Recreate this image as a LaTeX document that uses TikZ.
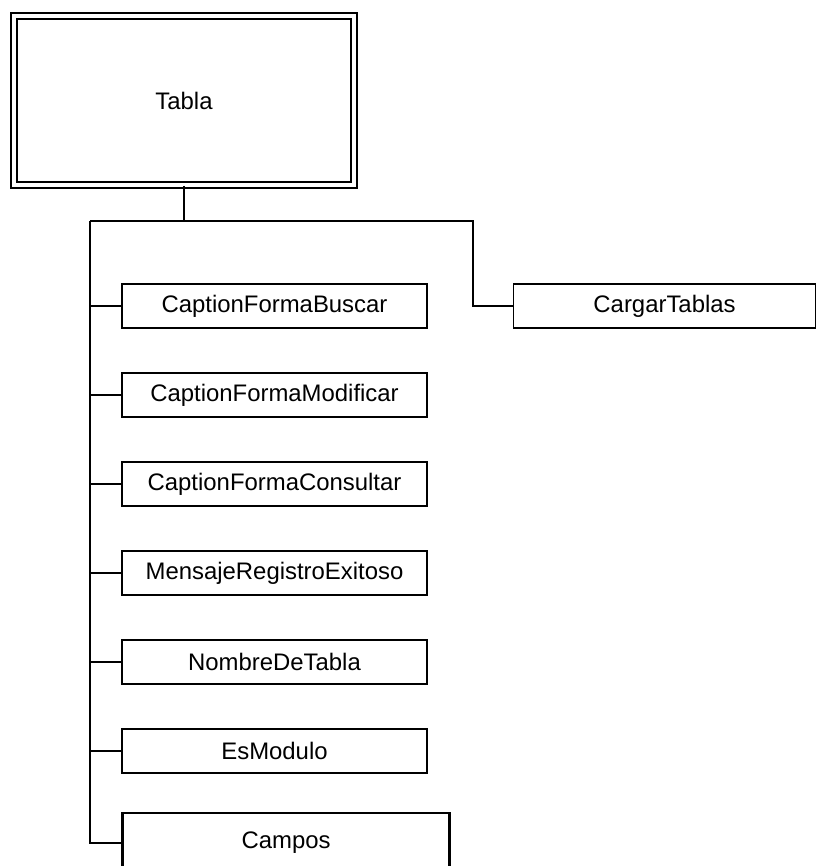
\documentclass[tikz,border=0pt]{standalone}
\usepackage{fontspec}
\setmainfont{Liberation Sans}
\usetikzlibrary{positioning,calc}

\begin{document}
\begin{tikzpicture}[
    node distance=1.085cm and 2.125cm,
    root/.style={rectangle, draw, double, double distance=3.1pt, line width=1.1pt, minimum width=8.5cm, minimum height=4.225cm, inner sep=0pt, font=\fontsize{17}{20}\selectfont},
    attr/.style={rectangle, draw, line width=1.1pt, minimum width=7.625cm, minimum height=1.1cm, inner sep=0pt, font=\fontsize{17}{20}\selectfont},
    coll/.style={rectangle, draw, line width=2pt, minimum width=8.175cm, minimum height=1.5cm, inner sep=0pt, font=\fontsize{17}{20}\selectfont},
    conn/.style={line width=1.2pt}
]
\useasboundingbox (0,0) rectangle (20.375,-21.65);

% Root
\node[root] (tabla) at (4.6,-2.5125) {Tabla};

% Attributes
\node[attr] (buscar) at (6.8625,-7.65) {CaptionFormaBuscar};
\node[attr, below=of buscar] (modificar) {CaptionFormaModificar};
\node[attr, below=of modificar] (consultar) {CaptionFormaConsultar};
\node[attr, below=of consultar] (mensaje) {MensajeRegistroExitoso};
\node[attr, below=of mensaje] (nombre) {NombreDeTabla};
\node[attr, below=of nombre] (esmod) {EsModulo};

% Collection
\node[coll, below=0.95cm of esmod.south west, anchor=north west] (campos) {Campos};

% Method
\node[attr, minimum width=7.55cm, right=2.125cm of buscar] (cargar) {CargarTablas};

% Connectors
\coordinate (bus) at (2.25,-5.525);
\coordinate (busr) at (11.825,-5.525);
\draw[conn] (tabla.south) -- (tabla.south |- bus);
\draw[conn] (bus) -- (busr) |- (cargar.west);
\draw[conn] (bus) |- (campos.west);
\foreach \n in {buscar,modificar,consultar,mensaje,nombre,esmod}
    \draw[conn] (bus |- \n.west) -- (\n.west);

\end{tikzpicture}
\end{document}
